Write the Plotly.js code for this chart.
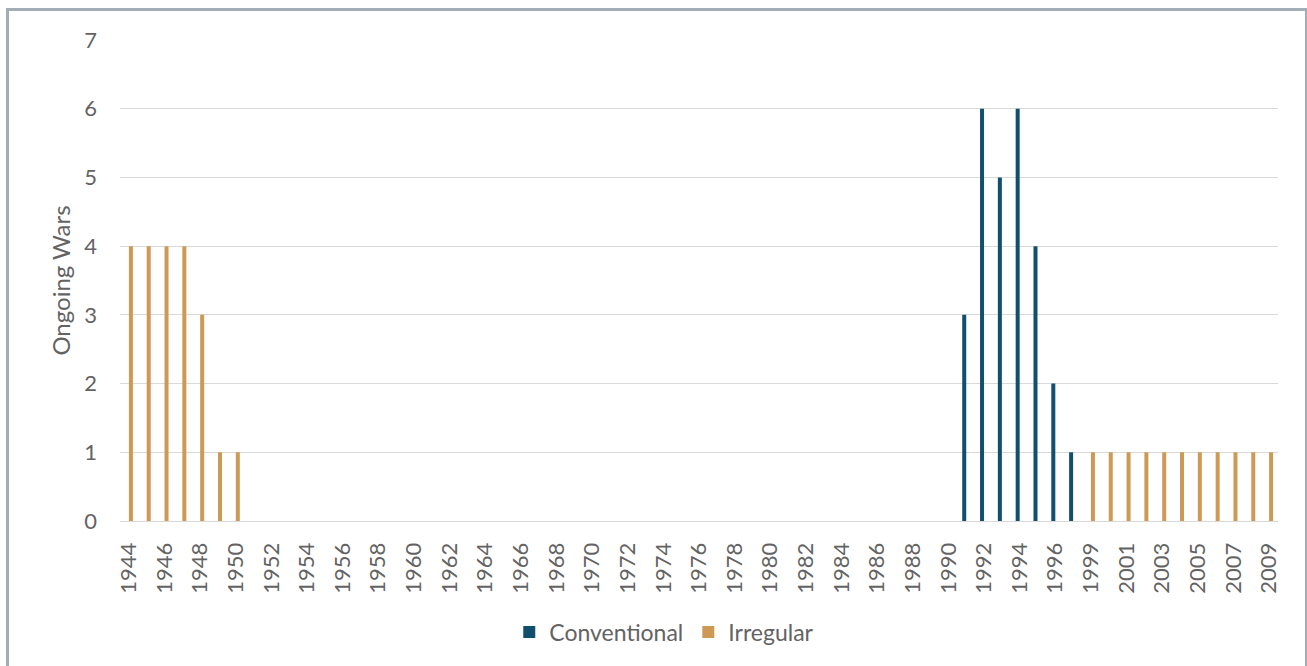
<!DOCTYPE html>
<html>
<head>
<meta charset="utf-8">
<script src="https://cdn.plot.ly/plotly-3.0.1.min.js"></script>
<style>
  html, body { margin:0; padding:0; background:#fff; overflow:hidden; }
  #frame { position:absolute; left:6px; top:8px; width:1296px; height:700px;
           border-left:3px solid #a3adb8; border-top:3px solid #a3adb8; border-right:2px solid #a3adb8; }
  #chart { position:absolute; left:0; top:0; width:1307px; height:666px; }
</style>
</head>
<body>
<div id="frame"></div>
<div id="chart"></div>
<script>
const years = ["1944","1945","1946","1947","1948","1949","1950","1951","1952","1953","1954","1955","1956","1957","1958","1959","1960","1961","1962","1963","1964","1965","1966","1967","1968","1969","1970","1971","1972","1973","1974","1975","1976","1977","1978","1979","1980","1981","1982","1983","1984","1985","1986","1987","1988","1989","1990","1991","1992","1993","1994","1995","1996","1997","1999","2000","2001","2002","2003","2004","2005","2006","2007","2008","2009"];
const conventional = [0,0,0,0,0,0,0, 0,0,0,0,0,0,0,0,0,0,0,0,0,0,0,0,0,0,0,0,0,0,0,0,0,0,0,0,0,0,0,0,0,0,0,0,0,0,0,0, 3,6,5,6,4,2,1, 0,0,0,0,0,0,0,0,0,0,0];
const irregular    = [4,4,4,4,3,1,1, 0,0,0,0,0,0,0,0,0,0,0,0,0,0,0,0,0,0,0,0,0,0,0,0,0,0,0,0,0,0,0,0,0,0,0,0,0,0,0,0, 0,0,0,0,0,0,0, 1,1,1,1,1,1,1,1,1,1,1];
const tickLabels = ["1944","1946","1948","1950","1952","1954","1956","1958","1960","1962","1964","1966","1968","1970","1972","1974","1976","1978","1980","1982","1984","1986","1988","1990","1992","1994","1996","1999","2001","2003","2005","2007","2009"];

const fontFam = "Lato, 'Open Sans', sans-serif";
const txt = "#636363";

const traces = [
  { type:"bar", name:"Conventional", x:years, y:conventional, marker:{color:"#114f6e"} },
  { type:"bar", name:"Irregular", x:years, y:irregular, marker:{color:"#cc9a54"} }
];

const layout = {
  width:1307, height:666,
  paper_bgcolor:"rgba(0,0,0,0)", plot_bgcolor:"rgba(0,0,0,0)",
  margin:{l:120, r:29, t:40, b:145},
  barmode:"group", bargap:0.55, bargroupgap:0,
  font:{family:fontFam, color:txt, size:22},
  showlegend:true,
  legend:{orientation:"h", x:0.47, xanchor:"center", y:-0.231, yanchor:"middle",
          font:{size:23, color:txt}, itemwidth:30, traceorder:"normal"},
  xaxis:{type:"category", tickmode:"array", tickvals:tickLabels, ticktext:tickLabels,
         tickangle:-90, tickfont:{size:22, color:txt}, showgrid:false, ticks:"",
         ticklabelstandoff:12,
         showline:true, linecolor:"#d9d9d9", linewidth:1, range:[-0.5, 64.5], fixedrange:true},
  yaxis:{range:[0,7], dtick:1, tick0:0, showgrid:true, gridcolor:"#d9d9d9", gridwidth:1,
         zeroline:false, showline:false, ticks:"", ticklabelstandoff:22,
         tickfont:{size:22, color:txt},
         title:{text:"Ongoing Wars", font:{size:24, color:txt}, standoff:6}}
};

Plotly.newPlot("chart", traces, layout, {displayModeBar:false, staticPlot:true});
</script>
</body>
</html>
